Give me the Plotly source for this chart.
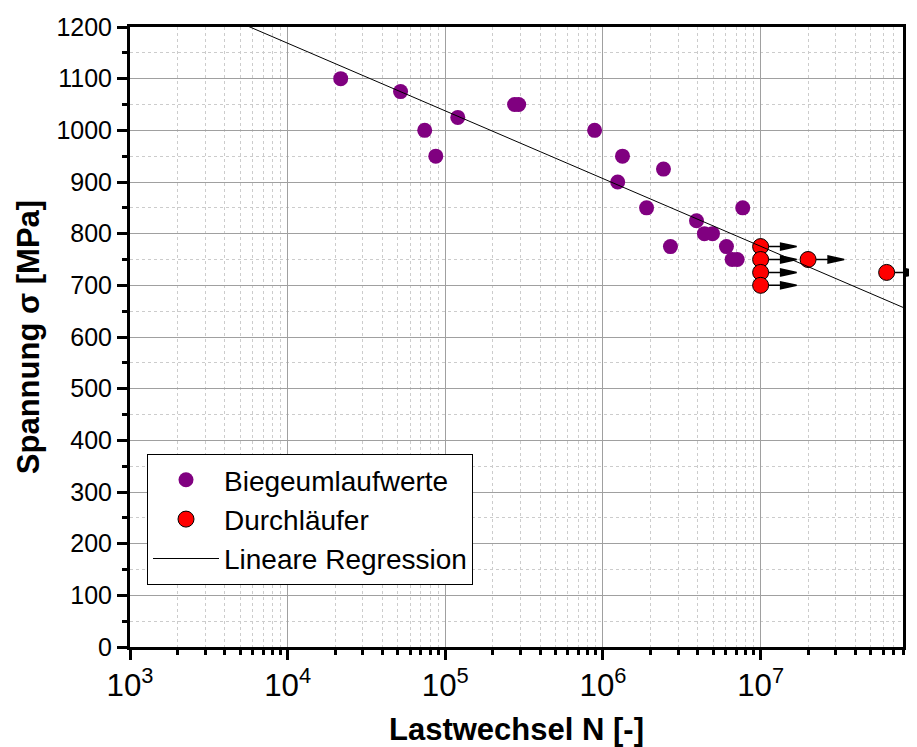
import math
import plotly.graph_objects as go

# ---- data ----
bieg_N = [2.17e4, 5.2e4, 7.4e4, 8.7e4, 1.2e5, 2.75e5, 2.92e5, 8.85e5, 1.24e6, 1.33e6,
          1.89e6, 2.42e6, 2.68e6, 3.92e6, 4.4e6, 4.95e6, 6.07e6, 6.6e6, 7.1e6, 7.7e6]
bieg_S = [1100, 1075, 1000, 950, 1025, 1050, 1050, 1000, 900, 950,
          850, 925, 775, 825, 800, 800, 775, 750, 750, 850]

durch_N = [1e7, 1e7, 1e7, 1e7, 2.0e7, 6.3e7]
durch_S = [775, 750, 725, 700, 750, 725]

# Linear regression sigma = A + B*log10(N)
reg_A = 1692.6
reg_B = -131.0

x_min_N = 1e3
x_max_N = 8e7
y_min, y_max = 0, 1200
y_ticks = list(range(0, 1201, 100))

FONT = "Liberation Sans, Arial, sans-serif"

xr = [math.log10(x_min_N), math.log10(x_max_N)]
reg_x = [x_min_N, x_max_N]
reg_y = [reg_A + reg_B * math.log10(v) for v in reg_x]

fig = go.Figure()
fig.add_trace(go.Scatter(
    x=bieg_N, y=bieg_S, mode="markers", name="Biegeumlaufwerte",
    marker=dict(color="#800080", size=15, line=dict(width=0))))
fig.add_trace(go.Scatter(
    x=durch_N, y=durch_S, mode="markers", name="Durchläufer",
    marker=dict(color="#ff0000", size=16, line=dict(color="black", width=1))))
fig.add_trace(go.Scatter(
    x=reg_x, y=reg_y, mode="lines", name="Lineare Regression",
    line=dict(color="black", width=1)))

# arrows for run-outs (Durchläufer)
shapes = []
for n, s in zip(durch_N, durch_S):
    xp = (math.log10(n) - xr[0]) / (xr[1] - xr[0])
    yp = (s - y_min) / (y_max - y_min)
    shapes.append(dict(
        type="path", xref="paper", yref="paper",
        xsizemode="pixel", ysizemode="pixel", xanchor=xp, yanchor=yp,
        path="M8,0 L21,0 M20,-3.5 L36,0 L20,3.5 Z",
        line=dict(color="black", width=1.5), fillcolor="black", layer="above"))

# the page body has an 8px margin, so the figure is 8px smaller and margins 8px less
fig.update_layout(
    width=909, height=739,
    margin=dict(l=122, r=14, t=19, b=100, autoexpand=False),
    paper_bgcolor="white", plot_bgcolor="white",
    font=dict(family=FONT, color="black", size=25),
    shapes=shapes,
    showlegend=True,
    legend=dict(
        x=0.022, y=0.1, xanchor="left", yanchor="bottom",
        bgcolor="white", bordercolor="black", borderwidth=1,
        font=dict(family=FONT, size=28, color="black"),
        itemwidth=66, tracegroupgap=0),
)

fig.update_xaxes(
    type="log", range=xr, dtick=1, exponentformat="power", automargin=False,
    showline=True, linecolor="black", linewidth=3, mirror=True,
    ticks="outside", ticklen=10, tickwidth=3, tickcolor="black",
    showgrid=True, gridcolor="#a0a0a0", gridwidth=1, zeroline=False,
    tickfont=dict(family=FONT, size=25),
    minor=dict(dtick="D1", ticks="outside", ticklen=5, tickwidth=3, tickcolor="black",
               showgrid=True, gridcolor="#cccccc", griddash="3px,3px", gridwidth=1),
    title=dict(text="<b>Lastwechsel N [-]</b>", font=dict(family=FONT, size=31), standoff=20),
)
fig.update_yaxes(
    range=[y_min, y_max], tickvals=y_ticks, automargin=False,
    showline=True, linecolor="black", linewidth=3, mirror=True,
    ticks="outside", ticklen=10, tickwidth=3, tickcolor="black",
    showgrid=True, gridcolor="#a0a0a0", gridwidth=1, zeroline=False,
    tickfont=dict(family=FONT, size=25),
    minor=dict(dtick=50, ticks="outside", ticklen=5, tickwidth=3, tickcolor="black",
               showgrid=True, gridcolor="#cccccc", griddash="3px,3px", gridwidth=1),
    title=dict(text="<b>Spannung σ [MPa]</b>", font=dict(family=FONT, size=31), standoff=8),
)

fig.write_html("out.html")
